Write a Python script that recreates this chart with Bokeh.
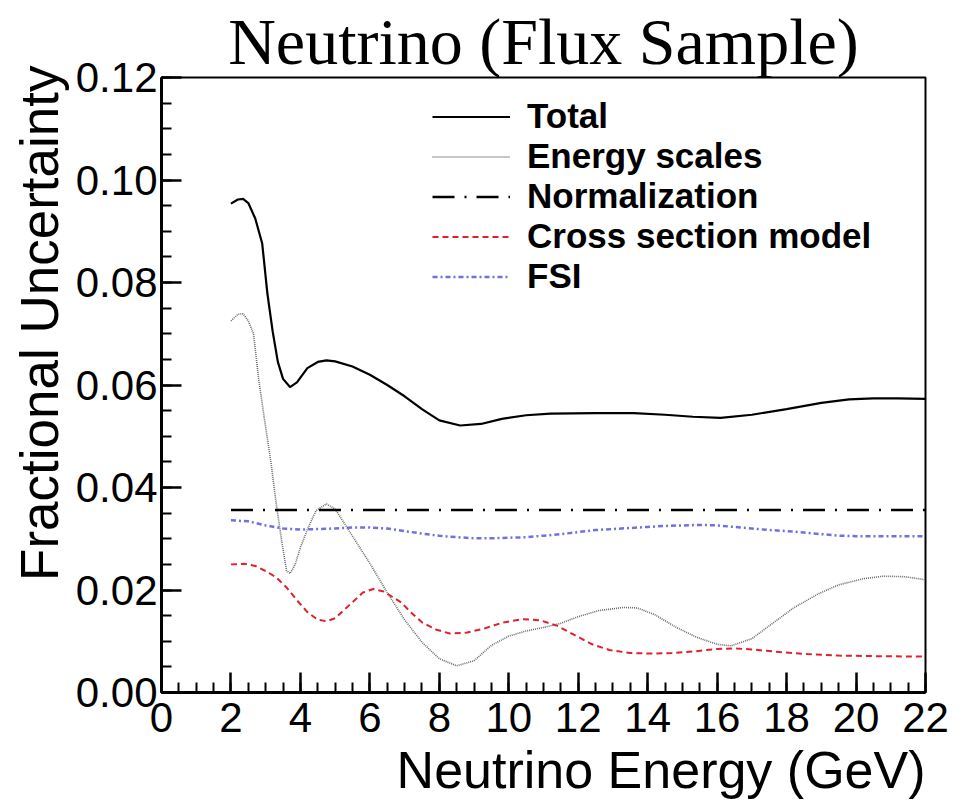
from bokeh.plotting import figure
from bokeh.models import Range1d, FixedTicker, Legend, LegendItem, PrintfTickFormatter, Title
from bokeh.embed import file_html
from bokeh.resources import INLINE

# ---------------- data ----------------
total_e = [2.0, 2.2, 2.35, 2.5, 2.7, 2.9, 3.05, 3.2, 3.35, 3.5, 3.7, 3.9, 4.2, 4.5, 4.75,
           5.0, 5.5, 6.0, 6.5, 7.0, 7.5, 8.0, 8.6, 9.2, 9.8, 10.5, 11.2, 12.5, 13.6, 14.5,
           15.3, 16.1, 17.0, 18.0, 19.0, 19.8, 20.5, 21.2, 22.0]
total_v = [0.0954, 0.0962, 0.0963, 0.0955, 0.0925, 0.0876, 0.0778, 0.0705, 0.0645, 0.0612,
           0.0596, 0.0605, 0.0633, 0.0645, 0.0648, 0.0646, 0.0636, 0.0620, 0.0600, 0.0578,
           0.0553, 0.0531, 0.0521, 0.0524, 0.0534, 0.0541, 0.0544, 0.0545, 0.0545, 0.0542,
           0.0538, 0.0536, 0.0542, 0.0553, 0.0565, 0.0572, 0.0574, 0.0574, 0.0573]

escale_e = [2.0, 2.2, 2.35, 2.5, 2.65, 2.8, 2.95, 3.15, 3.3, 3.45, 3.6, 3.7, 3.85, 4.0, 4.2,
            4.45, 4.75, 5.0, 5.5, 6.0, 6.5, 7.0, 7.5, 8.0, 8.5, 9.0, 9.5, 10.0, 10.5, 11.0,
            11.5, 12.0, 12.6, 13.3, 13.7, 14.2, 14.8, 15.4, 16.0, 16.4, 17.0, 17.6, 18.2,
            18.9, 19.5, 20.2, 20.8, 21.4, 22.0]
escale_v = [0.0725, 0.0738, 0.0739, 0.0725, 0.0700, 0.0610, 0.0540, 0.0450, 0.0370, 0.0300,
            0.0238, 0.0232, 0.0250, 0.0283, 0.0318, 0.0355, 0.0368, 0.0358, 0.0305, 0.0252,
            0.0195, 0.0142, 0.0098, 0.0066, 0.0052, 0.0062, 0.0092, 0.0110, 0.0120, 0.0127,
            0.0135, 0.0148, 0.0160, 0.0166, 0.0165, 0.0152, 0.0128, 0.0108, 0.0094, 0.0091,
            0.0105, 0.0135, 0.0165, 0.0192, 0.0210, 0.0222, 0.0227, 0.0226, 0.0220]

norm_e = [2.0, 22.0]
norm_v = [0.0356, 0.0356]

xsec_e = [2.0, 2.4, 2.7, 3.0, 3.3, 3.6, 3.9, 4.2, 4.5, 4.75, 5.0, 5.4, 5.8, 6.1, 6.4, 6.9,
          7.2, 7.5, 7.9, 8.3, 8.8, 9.3, 9.8, 10.4, 10.9, 11.4, 11.9, 12.4, 12.9, 13.5, 14.1,
          14.7, 15.3, 16.0, 16.5, 17.0, 17.8, 18.6, 19.5, 20.5, 22.0]
xsec_v = [0.0250, 0.0251, 0.0247, 0.0237, 0.0225, 0.0205, 0.0180, 0.0157, 0.0142, 0.0139,
          0.0145, 0.0170, 0.0195, 0.0202, 0.0197, 0.0176, 0.0155, 0.0137, 0.0123, 0.0115,
          0.0117, 0.0125, 0.0136, 0.0143, 0.0141, 0.0130, 0.0112, 0.0094, 0.0083, 0.0077,
          0.0076, 0.0077, 0.0080, 0.0085, 0.0086, 0.0084, 0.0079, 0.0075, 0.0072, 0.0071,
          0.0070]

fsi_e = [2.0, 2.5, 3.0, 3.5, 4.0, 4.5, 5.0, 5.5, 6.0, 6.5, 7.0, 7.5, 8.0, 8.5, 9.0, 9.5,
         10.0, 10.5, 11.0, 11.5, 12.0, 12.5, 13.0, 13.5, 14.0, 14.5, 15.0, 15.5, 16.0, 16.5,
         17.0, 17.5, 18.0, 18.5, 19.0, 19.5, 20.0, 21.0, 22.0]
fsi_v = [0.0336, 0.0334, 0.0326, 0.0320, 0.0318, 0.0319, 0.0320, 0.0322, 0.0322, 0.0320,
         0.0315, 0.0310, 0.0306, 0.0303, 0.0301, 0.0301, 0.0302, 0.0303, 0.0306, 0.0309,
         0.0313, 0.0317, 0.0319, 0.0321, 0.0323, 0.0325, 0.0326, 0.0327, 0.0326, 0.0323,
         0.0320, 0.0317, 0.0315, 0.0312, 0.0309, 0.0306, 0.0305, 0.0305, 0.0305]

x_ticks = [0, 2, 4, 6, 8, 10, 12, 14, 16, 18, 20, 22]
x_minor = [i * 0.5 for i in range(45)]
y_ticks = [0.00, 0.02, 0.04, 0.06, 0.08, 0.10, 0.12]
y_minor = [i * 0.005 for i in range(25)]

title_text = "Neutrino (Flux Sample)"
x_title = "Neutrino Energy (GeV)"
y_title = "Fractional Uncertainty"
legend_labels = ["Total", "Energy scales", "Normalization", "Cross section model", "FSI"]

# ---------------- figure ----------------
p = figure(width=960, height=806, output_backend="svg", toolbar_location=None,
           x_range=Range1d(0, 22), y_range=Range1d(0, 0.12),
           min_border_left=161, min_border_right=35, min_border_top=77, min_border_bottom=114)
p.grid.visible = False
p.background_fill_color = "white"
p.border_fill_color = "white"
p.outline_line_color = "black"
p.outline_line_width = 2
p.outline_line_alpha = 1

p.title.text = title_text
p.title.text_font = "Liberation Serif"
p.title.text_font_size = "66px"
p.title.text_font_style = "normal"
p.title.text_color = "black"
p.title.align = "center"
p.title.standoff = 0

for ax, ticks, minor in ((p.xaxis[0], x_ticks, x_minor), (p.yaxis[0], y_ticks, y_minor)):
    ax.ticker = FixedTicker(ticks=ticks, minor_ticks=minor)
    ax.axis_line_width = 3
    ax.axis_line_color = "black"
    ax.major_tick_in = 20
    ax.major_tick_out = 0
    ax.minor_tick_in = 10
    ax.minor_tick_out = 0
    ax.major_tick_line_width = 2.5
    ax.minor_tick_line_width = 2
    ax.major_tick_line_color = "black"
    ax.minor_tick_line_color = "black"
    ax.major_label_text_font = "Liberation Sans"
    ax.major_label_text_font_size = "42px"
    ax.major_label_text_color = "black"

p.yaxis[0].formatter = PrintfTickFormatter(format="%.2f")
p.yaxis[0].major_label_standoff = 4
p.xaxis[0].major_label_standoff = 10

p.add_layout(Title(text=x_title, align="right", text_font="Liberation Sans",
                   text_font_size="52px", text_font_style="normal", text_color="black",
                   standoff=8), "below")
p.add_layout(Title(text=y_title, align="right", offset=-12, text_font="Liberation Sans",
                   text_font_size="53px", text_font_style="normal", text_color="black",
                   standoff=8), "left")

r_total = p.line(total_e, total_v, line_color="black", line_width=2.2)
r_es = p.line(escale_e, escale_v, line_color="#6a6a6a", line_width=1.6, line_dash="1 1")
r_norm = p.line(norm_e, norm_v, line_color="black", line_width=2.5, line_dash="22 10 2 10")
r_xs = p.line(xsec_e, xsec_v, line_color="#e0202a", line_width=2, line_dash="6 4")
r_fsi = p.line(fsi_e, fsi_v, line_color="#4040d8", line_width=2.5, line_dash="5 3 2 3", line_alpha=0.75)

legend = Legend(items=[LegendItem(label=l, renderers=[r]) for l, r in
                       zip(legend_labels, [r_total, r_es, r_norm, r_xs, r_fsi])],
                location=(271, 396), orientation="vertical",
                glyph_width=78, glyph_height=37, label_height=37, label_standoff=17,
                spacing=0, padding=0, margin=0,
                label_text_font="Liberation Sans", label_text_font_style="bold",
                label_text_font_size="35px", label_text_color="black",
                border_line_color=None, background_fill_alpha=0)
p.add_layout(legend, "center")

open("out.html", "w").write(file_html(p, INLINE))
